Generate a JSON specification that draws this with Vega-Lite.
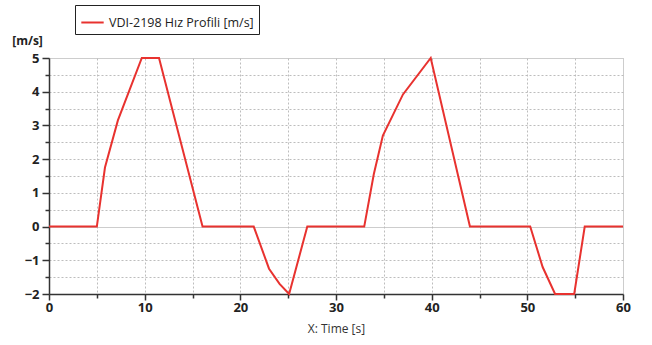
{
  "$schema": "https://vega.github.io/schema/vega-lite/v6.json",
  "autosize": "none",
  "width": 574,
  "height": 236,
  "padding": {"left": 49, "top": 58, "right": 29, "bottom": 51},
  "background": "white",
  "config": {"view": {"stroke": null}, "font": "Open Sans"},
  "data": {
    "values": [
      {"t": 0, "v": 0, "s": "VDI-2198 Hız Profili [m/s]"},
      {"t": 5.0, "v": 0, "s": "VDI-2198 Hız Profili [m/s]"},
      {"t": 5.85, "v": 1.75, "s": "VDI-2198 Hız Profili [m/s]"},
      {"t": 7.2, "v": 3.15, "s": "VDI-2198 Hız Profili [m/s]"},
      {"t": 9.7, "v": 5, "s": "VDI-2198 Hız Profili [m/s]"},
      {"t": 11.5, "v": 5, "s": "VDI-2198 Hız Profili [m/s]"},
      {"t": 16.05, "v": 0, "s": "VDI-2198 Hız Profili [m/s]"},
      {"t": 21.4, "v": 0, "s": "VDI-2198 Hız Profili [m/s]"},
      {"t": 23.0, "v": -1.25, "s": "VDI-2198 Hız Profili [m/s]"},
      {"t": 24.1, "v": -1.7, "s": "VDI-2198 Hız Profili [m/s]"},
      {"t": 25.1, "v": -2, "s": "VDI-2198 Hız Profili [m/s]"},
      {"t": 27.0, "v": 0, "s": "VDI-2198 Hız Profili [m/s]"},
      {"t": 32.95, "v": 0, "s": "VDI-2198 Hız Profili [m/s]"},
      {"t": 33.95, "v": 1.55, "s": "VDI-2198 Hız Profili [m/s]"},
      {"t": 34.9, "v": 2.7, "s": "VDI-2198 Hız Profili [m/s]"},
      {"t": 37.0, "v": 3.92, "s": "VDI-2198 Hız Profili [m/s]"},
      {"t": 39.9, "v": 5, "s": "VDI-2198 Hız Profili [m/s]"},
      {"t": 44.0, "v": 0, "s": "VDI-2198 Hız Profili [m/s]"},
      {"t": 50.3, "v": 0, "s": "VDI-2198 Hız Profili [m/s]"},
      {"t": 51.6, "v": -1.2, "s": "VDI-2198 Hız Profili [m/s]"},
      {"t": 52.9, "v": -2, "s": "VDI-2198 Hız Profili [m/s]"},
      {"t": 54.9, "v": -2, "s": "VDI-2198 Hız Profili [m/s]"},
      {"t": 56.0, "v": 0, "s": "VDI-2198 Hız Profili [m/s]"},
      {"t": 60, "v": 0, "s": "VDI-2198 Hız Profili [m/s]"}
    ]
  },
  "mark": {"type": "line", "strokeWidth": 2, "clip": false},
  "encoding": {
    "x": {
      "field": "t",
      "type": "quantitative",
      "scale": {"domain": [0, 60], "nice": false, "zero": false},
      "axis": {
        "title": "X: Time [s]",
        "titleFontWeight": "normal",
        "titleFontSize": 12,
        "titleColor": "#333",
        "titlePadding": 9,
        "values": [0, 5, 10, 15, 20, 25, 30, 35, 40, 45, 50, 55, 60],
        "labelExpr": "datum.value % 10 === 0 ? format(datum.value, 'd') : ''",
        "labelFontWeight": "bold",
        "labelFontSize": 13,
        "labelColor": "#222",
        "labelPadding": 1,
        "labelFlush": false,
        "labelOverlap": false,
        "domainColor": "#333",
        "domainWidth": 1.5,
        "tickColor": "#333",
        "tickWidth": 1.5,
        "tickSize": {"condition": {"test": "datum.value % 10 === 0", "value": 6}, "value": 4},
        "grid": true,
        "gridColor": "#bdbdbd",
        "gridOpacity": 1,
        "gridDash": {"condition": {"test": "datum.value === 60", "value": [1, 0]}, "value": [2, 2]},
        "gridWidth": 1
      }
    },
    "y": {
      "field": "v",
      "type": "quantitative",
      "scale": {"domain": [-2, 5], "nice": false, "zero": false},
      "axis": {
        "title": "[m/s]",
        "titleAngle": 0,
        "titleAlign": "center",
        "titleBaseline": "alphabetic",
        "titleX": -22,
        "titleY": -14,
        "titleFontWeight": "bold",
        "titleFontSize": 12,
        "titleColor": "#222",
        "values": [-2, -1.5, -1, -0.5, 0, 0.5, 1, 1.5, 2, 2.5, 3, 3.5, 4, 4.5, 5],
        "labelExpr": "datum.value % 1 === 0 ? format(datum.value, 'd') : ''",
        "labelFontWeight": "bold",
        "labelFontSize": 13,
        "labelColor": "#222",
        "labelPadding": 3,
        "labelFlush": false,
        "labelOverlap": false,
        "domainColor": "#333",
        "domainWidth": 1.5,
        "tickColor": "#333",
        "tickWidth": 1.5,
        "tickSize": {"condition": {"test": "datum.value % 1 === 0", "value": 7}, "value": 4},
        "grid": true,
        "gridColor": "#bdbdbd",
        "gridOpacity": 1,
        "gridDash": {"condition": {"test": "datum.value === 0 || datum.value === 5", "value": [1, 0]}, "value": [2, 2]},
        "gridWidth": 1
      }
    },
    "color": {
      "field": "s",
      "type": "nominal",
      "scale": {"range": ["#e8322f"]},
      "legend": {
        "title": null,
        "orient": "none",
        "legendX": 26,
        "legendY": -53,
        "symbolType": "stroke",
        "symbolStrokeWidth": 2,
        "symbolSize": 500,
        "labelFontSize": 12.5,
        "labelColor": "#222",
        "labelFont": "Open Sans",
        "strokeColor": "#222",
        "fillColor": "white",
        "padding": 5
      }
    }
  }
}
